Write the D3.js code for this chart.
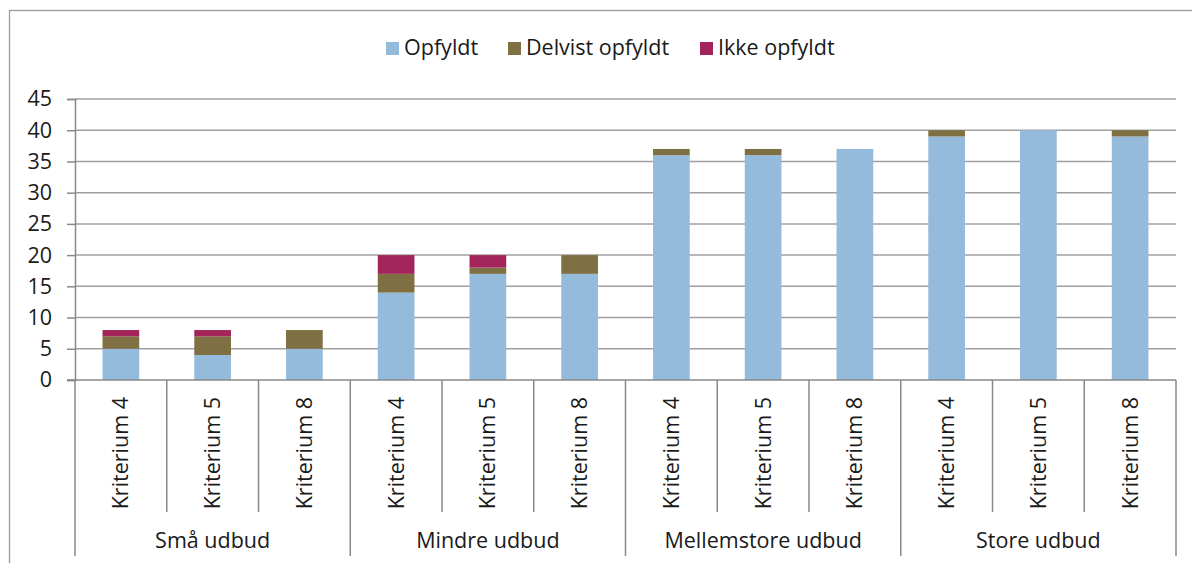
<!DOCTYPE html>
<html><head><meta charset="utf-8">
<script src="https://cdn.jsdelivr.net/npm/d3@7"></script>
<style>body{margin:0;background:#fff}svg{display:block}text{font-family:"Open Sans","Noto Sans",sans-serif;fill:#1a1a1a}</style>
</head><body>
<svg id="c" width="1192" height="563"></svg>
<script>
const groups = ["Små udbud","Mindre udbud","Mellemstore udbud","Store udbud"];
const criteria = ["Kriterium 4","Kriterium 5","Kriterium 8"];
const seriesNames = ["Opfyldt","Delvist opfyldt","Ikke opfyldt"];
const colors = ["#95BBDC","#7F7044","#A3245A"];
const opfyldt = [5,4,5, 14,17,17, 36,36,37, 39,40,39];
const delvist = [2,3,3, 3,1,3, 1,1,0, 1,0,1];
const ikke    = [1,1,0, 3,2,0, 0,0,0, 0,0,0];
const yTicks = [0,5,10,15,20,25,30,35,40,45];

const rows = [];
groups.forEach((g,gi)=>criteria.forEach((c,ci)=>{
  const i = gi*3+ci;
  rows.push({key:i, group:g, crit:c, "Opfyldt":opfyldt[i], "Delvist opfyldt":delvist[i], "Ikke opfyldt":ikke[i]});
}));

const FS = 21.5;
const svg = d3.select("#c");
const L=75, R=1176, T=99, B=380;
const x = d3.scaleBand().domain(rows.map(d=>d.key)).range([L,R]).paddingInner(0.6).paddingOuter(0.3);
const xb = d3.scaleBand().domain(rows.map(d=>d.key)).range([L,R]);
const y = d3.scaleLinear().domain([0,45]).range([B,T]);

// outer border
svg.append("rect").attr("x",9.5).attr("y",10.5).attr("width",1200).attr("height",600)
  .attr("fill","none").attr("stroke","#9a9a9a").attr("stroke-width",1.3);

// gridlines
svg.append("g").selectAll("line").data(yTicks.filter(t=>t>0)).join("line")
  .attr("x1",L).attr("x2",R).attr("y1",d=>y(d)).attr("y2",d=>y(d))
  .attr("stroke","#a0a0a0").attr("stroke-width",1.5);

// y axis
const ya = svg.append("g").attr("transform",`translate(${L},0)`)
  .call(d3.axisLeft(y).tickValues(yTicks).tickSize(8).tickPadding(15));
ya.select(".domain").attr("stroke","#888").attr("stroke-width",1.5);
ya.selectAll(".tick line").attr("stroke","#888").attr("stroke-width",1.5);
ya.selectAll(".tick text").attr("font-size",FS).attr("font-family","Open Sans, Noto Sans, sans-serif").attr("fill","#1a1a1a");

// bars
const stack = d3.stack().keys(seriesNames)(rows);
svg.append("g").selectAll("g").data(stack).join("g").attr("fill",(d,i)=>colors[i])
  .selectAll("rect").data(d=>d.filter(s=>s[1]-s[0]>0)).join("rect")
  .attr("x",d=>x(d.data.key)).attr("width",x.bandwidth())
  .attr("y",d=>y(d[1])).attr("height",d=>y(d[0])-y(d[1]));

// category axis lines
const ax = svg.append("g");
ax.append("line").attr("x1",L-8).attr("x2",R).attr("y1",B).attr("y2",B).attr("stroke","#888").attr("stroke-width",1.5);
const bounds = d3.range(rows.length+1);
ax.selectAll("line.sep").data(bounds).join("line").attr("class","sep")
  .attr("x1",i=>i<rows.length?xb(i):R).attr("x2",i=>i<rows.length?xb(i):R)
  .attr("y1",B).attr("y2",i=>i%3===0?556:512)
  .attr("stroke","#888").attr("stroke-width",1.5);

// criterion labels
svg.append("g").selectAll("text").data(rows).join("text")
  .attr("transform",d=>`translate(${xb(d.key)+xb.bandwidth()/2+7.5},${397}) rotate(-90)`)
  .attr("text-anchor","end").attr("font-size",FS).text(d=>d.crit);

// group labels
svg.append("g").selectAll("text").data(groups).join("text")
  .attr("x",(g,gi)=>(xb(gi*3)+ (gi*3+3<rows.length?xb(gi*3+3):R))/2)
  .attr("y",548).attr("text-anchor","middle").attr("font-size",FS).text(d=>d);

// legend
const lx = [386,508,700];
const lg = svg.append("g").selectAll("g").data(seriesNames).join("g")
  .attr("transform",(d,i)=>`translate(${lx[i]},42)`);
lg.append("rect").attr("width",13).attr("height",13).attr("fill",(d,i)=>colors[i]);
lg.append("text").attr("x",18).attr("y",13).attr("font-size",FS).text(d=>d);
</script>
</body></html>
